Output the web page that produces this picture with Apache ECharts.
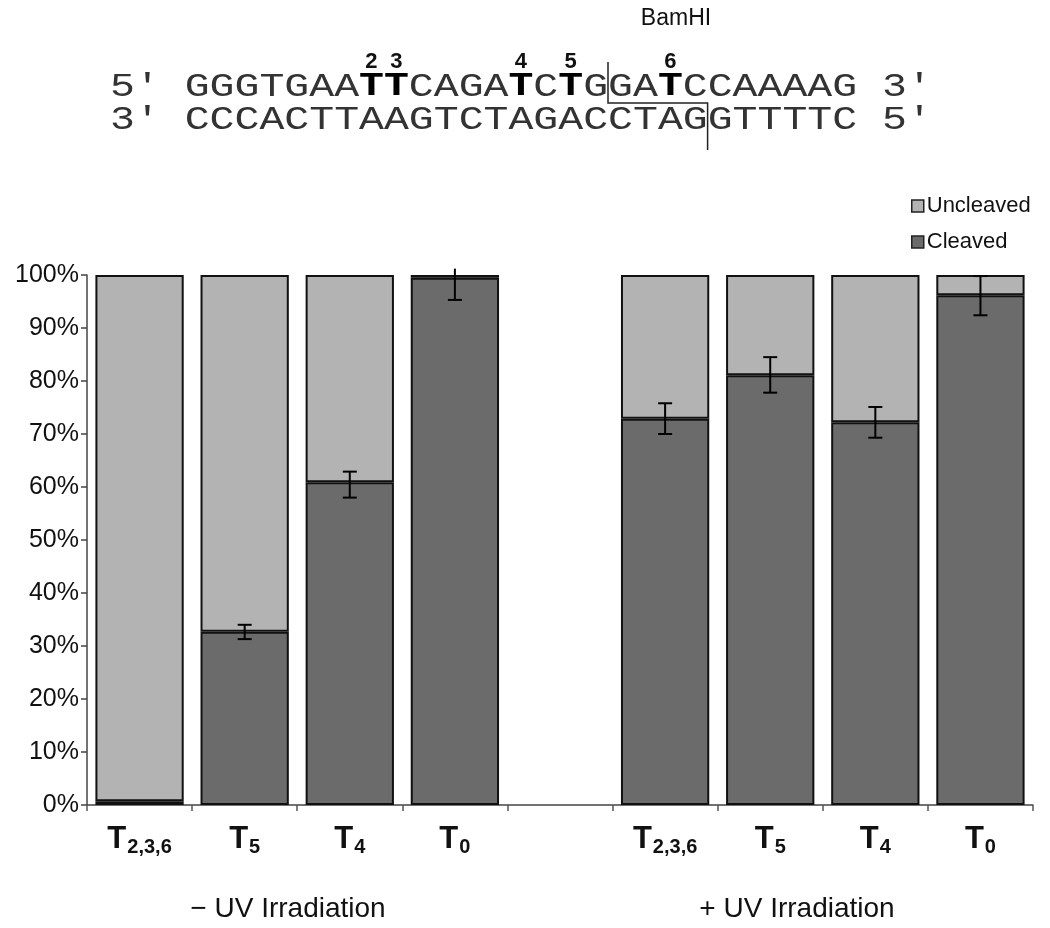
<!DOCTYPE html>
<html><head><meta charset="utf-8">
<script src="https://cdn.jsdelivr.net/npm/echarts@6/dist/echarts.min.js"></script>
<style>html,body{margin:0;padding:0;background:#fff}#c{width:1050px;height:928px}</style>
</head><body><div id="c"></div>
<script>
// ---- data ----
const categories = ['2,3,6', '5', '4', '0', '', '2,3,6', '5', '4', '0'];
const cleaved   = [0.7, 32.7, 60.9, 99.5, '-', 72.9, 81.1, 72.2, 96.2];
const uncleaved = [99.3, 67.3, 39.1, 0.5, '-', 27.1, 18.9, 27.8, 3.8];
const errLow    = [null, 31.3, 58.0, 95.3, null, 70.0, 77.8, 69.3, 92.4];
const errHigh   = [null, 34.0, 62.9, 101.2, null, 75.8, 84.5, 75.1, 99.8];
const groupLabels = ['\u2212 UV Irradiation', '+ UV Irradiation'];
const seqTop = [['5\u2032 GGGTGAA', 'n'], ['TT', 'b'], ['CAGA', 'n'], ['T', 'b'], ['C', 'n'], ['T', 'b'], ['GGA', 'n'], ['T', 'b'], ['CCAAAAG 3\u2032', 'n']];
const seqBottom = '3\u2032 CCCACTTAAGTCTAGACCTAGGTTTTC 5\u2032';
const siteNumbers = [['2', 10], ['3', 11], ['4', 16], ['5', 18], ['6', 22]]; // [label, char index in line]

const chart = echarts.init(document.getElementById('c'), null, {renderer: 'canvas'});
const SANS = '"Liberation Sans", Arial, sans-serif';
const NARROW = '"Liberation Sans Narrow", "Arial Narrow", "Liberation Sans", sans-serif';
const MONO = '"Liberation Mono", "Courier New", monospace';

// sequence text geometry
const seqFont = 41.5, cw = seqFont * 0.6, x0 = 110, y1 = 87, y2 = 120, sy = 0.8;
const graphics = [
  {type: 'text', x: x0, y: y1, scaleY: sy, style: {
    text: seqTop.map(p => '{' + p[1] + '|' + p[0] + '}').join(''), verticalAlign: 'middle', align: 'left',
    rich: {n: {fontFamily: MONO, fontSize: seqFont, fill: '#333'},
           b: {fontFamily: MONO, fontSize: seqFont, fontWeight: 'bold', fill: '#000'}}
  }},
  {type: 'text', x: x0, y: y2, scaleY: sy, style: {text: seqBottom, fontFamily: MONO, fontSize: seqFont, fill: '#333', verticalAlign: 'middle', align: 'left'}},
  {type: 'text', x: 676, y: 19, style: {text: 'BamHI', font: '23px ' + SANS, fill: '#111', align: 'center', verticalAlign: 'middle'}},
  {type: 'polyline', shape: {points: [[x0 + 20*cw, 62], [x0 + 20*cw, 103], [x0 + 24*cw, 103], [x0 + 24*cw, 150]]}, style: {stroke: '#222', lineWidth: 1.5, fill: null}},
  {type: 'text', x: 288, y: 909, style: {text: groupLabels[0], font: '28px ' + SANS, fill: '#111', align: 'center', verticalAlign: 'middle'}},
  {type: 'text', x: 797, y: 909, style: {text: groupLabels[1], font: '28px ' + SANS, fill: '#111', align: 'center', verticalAlign: 'middle'}}
];
siteNumbers.forEach(([t, i]) => graphics.push({type: 'text', x: x0 + (i + 0.5) * cw, y: 62,
  style: {text: t, font: 'bold 22px ' + SANS, fill: '#111', align: 'center', verticalAlign: 'middle'}}));

const errData = categories.map((c, i) => errLow[i] == null ? null : [i, errLow[i], errHigh[i]]).filter(d => d);

const barBorder = {borderColor: '#111', borderWidth: 2};
chart.setOption({
  animation: false,
  backgroundColor: '#fff',
  grid: {left: 87, right: 17, top: 275, bottom: 123, containLabel: false},
  legend: {
    orient: 'vertical', left: 906, top: 190, itemWidth: 12, itemHeight: 12, itemGap: 14,
    data: ['Uncleaved', 'Cleaved'], icon: 'rect',
    itemStyle: {borderColor: '#222', borderWidth: 1.5},
    textStyle: {fontFamily: SANS, fontSize: 22, color: '#111', padding: [0, 0, 0, -2]}
  },
  xAxis: {
    type: 'category', data: categories, boundaryGap: true,
    axisLine: {lineStyle: {color: '#444', width: 1.5}},
    axisTick: {show: true, length: 6, lineStyle: {color: '#555', width: 1.5}},
    axisLabel: {
      margin: 16, interval: 0,
      formatter: v => v === '' ? '' : '{t|T}{s|' + v + '}',
      rich: {
        t: {fontFamily: NARROW, fontWeight: 'bold', fontSize: 31, color: '#111', lineHeight: 36},
        s: {fontFamily: NARROW, fontWeight: 'bold', fontSize: 20, color: '#111', padding: [16, 0, 0, 1], lineHeight: 22}
      }
    }
  },
  yAxis: {
    type: 'value', min: 0, max: 100, interval: 10,
    splitLine: {show: false},
    axisLine: {show: true, lineStyle: {color: '#444', width: 1.5}},
    axisTick: {show: true, length: 6, lineStyle: {color: '#444', width: 1.5}},
    axisLabel: {formatter: '{value}%', fontFamily: SANS, fontSize: 25, color: '#111', margin: 8}
  },
  series: [
    {name: 'Cleaved', type: 'bar', stack: 'all', data: cleaved, barCategoryGap: '16%',
     itemStyle: Object.assign({color: '#6b6b6b'}, barBorder)},
    {name: 'Uncleaved', type: 'bar', stack: 'all', data: uncleaved, barCategoryGap: '16%',
     itemStyle: Object.assign({color: '#b3b3b3'}, barBorder)},
    {type: 'custom', data: errData, clip: false, z: 10,
     renderItem: (params, api) => {
       const i = api.value(0);
       const lo = api.coord([i, api.value(1)]);
       const hi = api.coord([i, api.value(2)]);
       const hw = 7, st = {stroke: '#000', lineWidth: 2};
       const ch = [{type: 'line', shape: {x1: lo[0], y1: hi[1], x2: lo[0], y2: lo[1]}, style: st},
                   {type: 'line', shape: {x1: lo[0] - hw, y1: lo[1], x2: lo[0] + hw, y2: lo[1]}, style: st}];
       if (api.value(2) <= 100) ch.push({type: 'line', shape: {x1: lo[0] - hw, y1: hi[1], x2: lo[0] + hw, y2: hi[1]}, style: st});
       return {type: 'group', children: ch};
     }}
  ],
  graphic: graphics
});
</script></body></html>
